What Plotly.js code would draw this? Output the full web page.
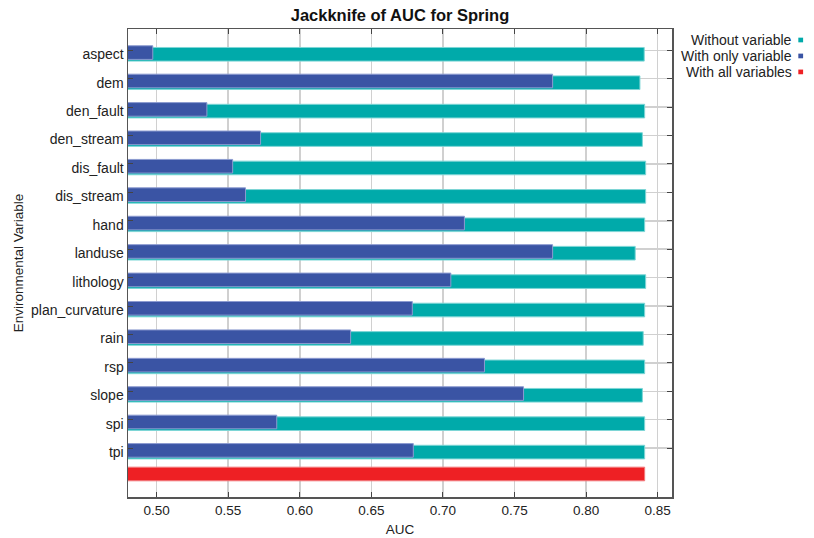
<!DOCTYPE html>
<html>
<head>
<meta charset="utf-8">
<script src="https://cdn.plot.ly/plotly-3.0.1.min.js"></script>
<style>
  html, body { margin: 0; padding: 0; background: #ffffff; }
  #chart { width: 814px; height: 538px; }
</style>
</head>
<body>
<div id="chart"></div>
<script>
// ---- data ----
const variables = ["aspect", "dem", "den_fault", "den_stream", "dis_fault", "dis_stream", "hand",
  "landuse", "lithology", "plan_curvature", "rain", "rsp", "slope", "spi", "tpi"];
const withoutVariable = [0.8406, 0.8376, 0.8409, 0.8393, 0.8416, 0.8416, 0.8409,
  0.8343, 0.8416, 0.8409, 0.8399, 0.8409, 0.8393, 0.8409, 0.8409];
const withOnlyVariable = [0.4973, 0.7766, 0.5351, 0.5726, 0.5531, 0.5621, 0.7150,
  0.7766, 0.7055, 0.6786, 0.6355, 0.7290, 0.7563, 0.5839, 0.6793];
const allRow = ["(all)"];
const withAllVariables = [0.8409];
const seriesNames = ["Without variable", "With only variable", "With all variables"];
const xTickVals = [0.50, 0.55, 0.60, 0.65, 0.70, 0.75, 0.80, 0.85];

const FONT = "Liberation Sans, Arial, Helvetica, sans-serif";
const cTeal = "#00aaaa", cBlue = "#3a54a4", cRed = "#ee2024";

const W = 0.48;
const traces = [
  { type: "bar", orientation: "h", name: seriesNames[0], y: variables, x: withoutVariable,
    width: W, offset: -0.10,
    marker: { color: cTeal, line: { color: "#7ed6d6", width: 1 } }, showlegend: false },
  { type: "bar", orientation: "h", name: seriesNames[1], y: variables, x: withOnlyVariable,
    width: W, offset: -0.16,
    marker: { color: cBlue, line: { color: "#8c9bd0", width: 1 } }, showlegend: false },
  { type: "bar", orientation: "h", name: seriesNames[2], y: allRow, x: withAllVariables,
    width: W, offset: -0.33,
    marker: { color: cRed, line: { color: "#f27a7c", width: 1 } }, showlegend: false }
];

// legend drawn as text + small squares (text left of marker, as in reference)
const legendColors = [cTeal, cBlue, cRed];
const legendY = [0.9765, 0.9424, 0.9083];
const annotations = seriesNames.map((n, i) => ({
  xref: "paper", yref: "paper", x: 1.2245, y: legendY[i], xanchor: "right", yanchor: "middle",
  text: n, showarrow: false, font: { family: FONT, size: 14, color: "#222" }
}));
const shapes = seriesNames.map((n, i) => ({
  type: "rect", xref: "paper", yref: "paper",
  x0: 1.2322, x1: 1.2410, y0: legendY[i] - 0.0050, y1: legendY[i] + 0.0050,
  fillcolor: legendColors[i], line: { width: 0 }
}));

const layout = {
  width: 814, height: 538,
  margin: { l: 128, r: 142, t: 29, b: 41 },
  paper_bgcolor: "#ffffff", plot_bgcolor: "#ffffff",
  barmode: "overlay",
  font: { family: FONT, size: 14, color: "#222" },
  title: { text: "<b>Jackknife of AUC for Spring</b>", x: 0.5, xref: "paper", xanchor: "center",
    y: 0.972, yref: "container", yanchor: "middle", font: { family: FONT, size: 16.5, color: "#111" } },
  xaxis: {
    range: [0.48, 0.86], tickmode: "array", tickvals: xTickVals, tickformat: ".2f",
    ticks: "inside", ticklen: 5, tickcolor: "#444", mirror: "ticks",
    showline: true, linecolor: "#555", linewidth: 1.5,
    showgrid: true, gridcolor: "#d0d0d0", gridwidth: 1.5, zeroline: false,
    tickfont: { family: FONT, size: 13.5, color: "#222" },
    title: { text: "AUC", font: { family: FONT, size: 13.5, color: "#222" }, standoff: 8 }
  },
  yaxis: {
    type: "category", categoryarray: variables.concat(allRow), categoryorder: "array",
    range: [15.72, -0.75], tickmode: "array", tickvals: variables, ticktext: variables,
    ticks: "inside", ticklen: 5, tickcolor: "#444", mirror: "ticks",
    showline: true, linecolor: "#555", linewidth: 1.5,
    showgrid: true, gridcolor: "#d0d0d0", gridwidth: 1.5,
    ticklabelshift: -4,
    tickfont: { family: FONT, size: 14, color: "#222" },
    title: { text: "Environmental Variable", font: { family: FONT, size: 13.5, color: "#222" }, standoff: 4 }
  },
  annotations: annotations,
  shapes: shapes,
  showlegend: false
};

Plotly.newPlot("chart", traces, layout, { displayModeBar: false, staticPlot: true });
</script>
</body>
</html>
